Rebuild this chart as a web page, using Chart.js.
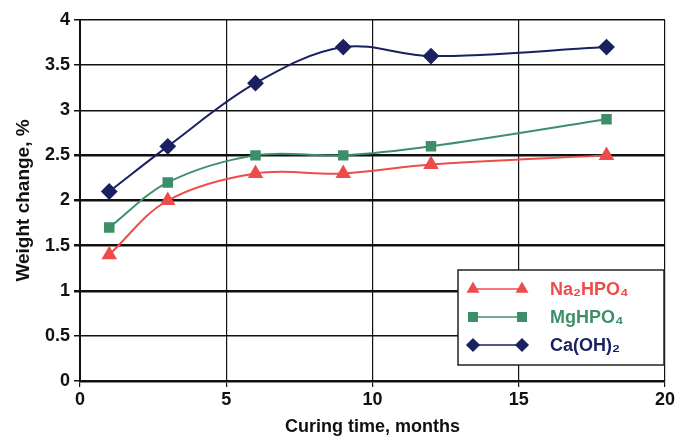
<!DOCTYPE html>
<html>
<head>
<script src="https://cdn.jsdelivr.net/npm/chart.js@4"></script>
<style>
  body { margin: 0; background: #fff; }
  #wrap { width: 679px; height: 438px; }
</style>
</head>
<body>
<div id="wrap"><canvas id="myChart"></canvas></div>
<script>
  // curing time (months) and weight change (%)
  var months = [1, 3, 6, 9, 12, 18];
  var na2hpo4 = [1.4, 2.0, 2.3, 2.3, 2.4, 2.5];
  var mghpo4 = [1.7, 2.2, 2.5, 2.5, 2.6, 2.9];
  var caoh2 = [2.1, 2.6, 3.3, 3.7, 3.6, 3.7];
  var seriesNames = ['Na₂HPO₄', 'MgHPO₄', 'Ca(OH)₂'];
  var seriesColors = ['#ee4b4b', '#3d8f6a', '#1b2160'];

  function pts(ys) {
    return months.map(function (m, i) { return { x: m, y: ys[i] }; });
  }

  var font = '"Liberation Sans", Arial, sans-serif';

  // legend box drawn inside the plot area
  var boxLegend = {
    id: 'boxLegend',
    afterDraw: function (chart) {
      var ctx = chart.ctx;
      var x0 = 458, y0 = 270, w = 206, h = 95;
      ctx.save();
      ctx.fillStyle = '#fff';
      ctx.fillRect(x0, y0, w, h);
      ctx.strokeStyle = '#222';
      ctx.lineWidth = 1.5;
      ctx.strokeRect(x0, y0, w, h);
      chart.data.datasets.forEach(function (ds, i) {
        var y = y0 + 19 + i * 28;
        ctx.strokeStyle = ds.borderColor;
        ctx.lineWidth = 1.5;
        ctx.beginPath();
        ctx.moveTo(473, y);
        ctx.lineTo(522, y);
        ctx.stroke();
        [473, 522].forEach(function (px) {
          ctx.fillStyle = ds.backgroundColor;
          ctx.strokeStyle = ds.borderColor;
          Chart.helpers.drawPoint(ctx, {
            pointStyle: ds.pointStyle,
            radius: 6,
            rotation: 0,
            borderWidth: 1
          }, px, y);
        });
        ctx.fillStyle = ds.borderColor;
        ctx.font = 'bold 18px ' + font;
        ctx.textBaseline = 'middle';
        ctx.fillText(ds.label, 550, y + 1);
      });
      ctx.restore();
    }
  };

  var thick = [1, 1.5, 2, 2.5];

  new Chart(document.getElementById('myChart'), {
    type: 'line',
    data: {
      datasets: [na2hpo4, mghpo4, caoh2].map(function (ys, i) {
        return {
          label: seriesNames[i],
          data: pts(ys),
          borderColor: seriesColors[i],
          backgroundColor: seriesColors[i],
          borderWidth: 2,
          pointStyle: ['triangle', 'rect', 'rectRot'][i],
          pointRadius: [7, 6, 7][i],
          pointHoverRadius: 7,
          tension: 0.35
        };
      })
    },
    options: {
      responsive: true,
      maintainAspectRatio: false,
      animation: false,
      layout: { padding: { top: 20, right: 14, left: 12, bottom: 0 } },
      plugins: {
        legend: { display: false },
        tooltip: { enabled: false }
      },
      scales: {
        x: {
          type: 'linear',
          min: 0,
          max: 20,
          ticks: { stepSize: 5, color: '#111', font: { family: font, size: 18, weight: 'bold' }, padding: 2 },
          grid: { color: '#111', lineWidth: 1.2, tickLength: 6 },
          border: { color: '#111', width: 2.5 },
          title: {
            display: true,
            text: 'Curing time, months',
            color: '#111',
            font: { family: font, size: 18, weight: 'bold' },
            padding: { top: 0, bottom: 0 }
          },
          afterFit: function (s) { s.height = 57; }
        },
        y: {
          min: 0,
          max: 4,
          ticks: {
            stepSize: 0.5,
            color: '#111',
            font: { family: font, size: 18, weight: 'bold' },
            padding: 4,
            callback: function (v) { return String(v); }
          },
          grid: {
            color: '#111',
            tickLength: 6,
            lineWidth: function (c) {
              return thick.indexOf(c.tick && c.tick.value) >= 0 ? 2.5 : 1.5;
            }
          },
          border: { color: '#111', width: 2 },
          title: {
            display: true,
            text: 'Weight change, %',
            color: '#111',
            font: { family: font, size: 19, weight: 'bold' },
            padding: { top: 0, bottom: 2 }
          },
          afterFit: function (s) { s.width = 68; }
        }
      }
    },
    plugins: [boxLegend]
  });
</script>
</body>
</html>
